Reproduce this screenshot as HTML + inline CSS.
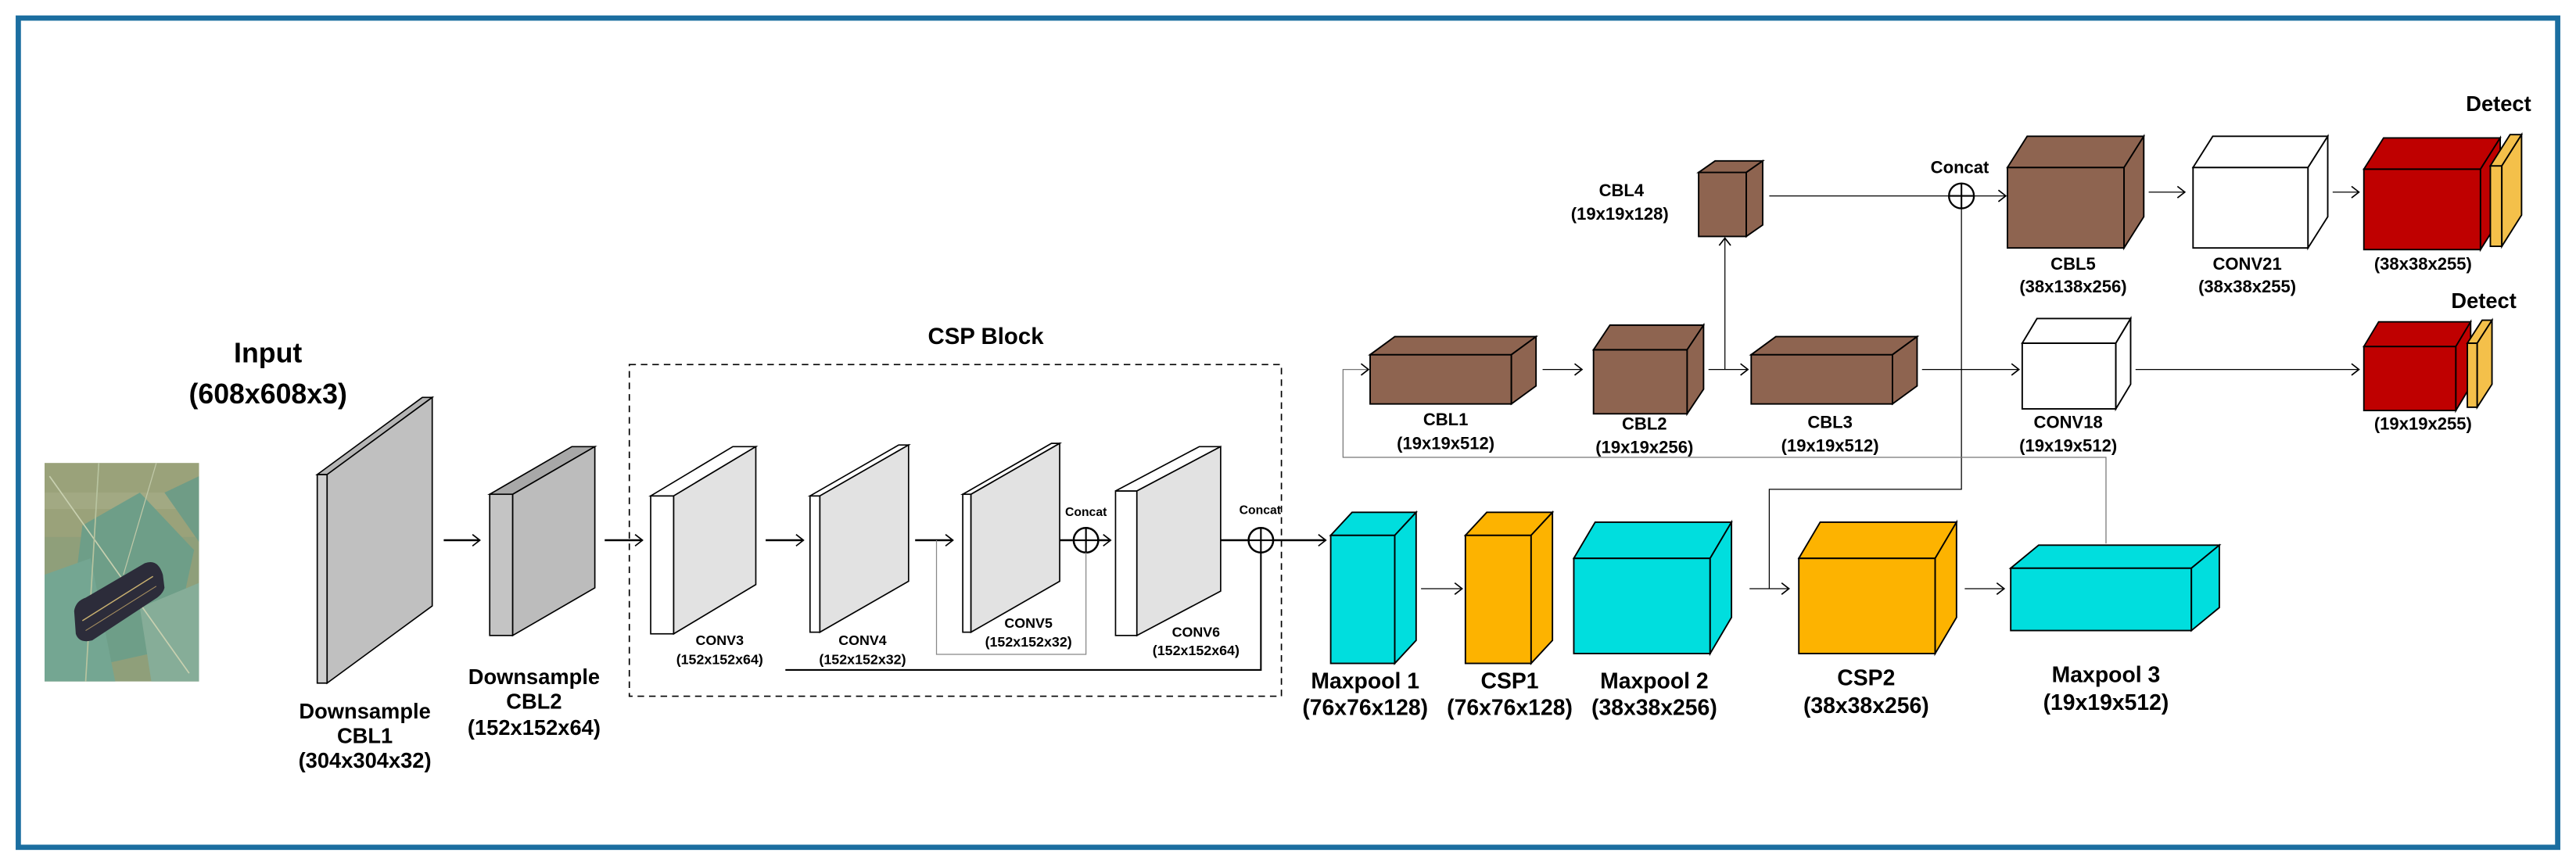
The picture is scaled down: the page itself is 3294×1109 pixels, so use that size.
<!DOCTYPE html>
<html><head><meta charset="utf-8">
<style>
html,body{margin:0;padding:0;background:#fff;}
svg{display:block;}
text{font-family:"Liberation Sans Narrow","Liberation Sans",sans-serif;font-weight:bold;fill:#000;text-anchor:middle;dominant-baseline:central;}
</style></head>
<body>
<svg width="3294" height="1109" viewBox="0 0 1568 528" xmlns="http://www.w3.org/2000/svg">
<defs>
<marker id="a" markerWidth="6" markerHeight="8" refX="5" refY="4" orient="auto" markerUnits="userSpaceOnUse">
<path d="M0.5,0.5 L5,4 L0.5,7.5" fill="none" stroke="#000" stroke-width="0.8"/>
</marker>
</defs>
<rect x="0" y="0" width="1568" height="528" fill="#fff"/>
<rect x="11" y="11" width="1546" height="505" fill="none" stroke="#1b6ea0" stroke-width="3.2"/>

<!-- photo -->
<rect x="27" y="282" width="94" height="133" fill="#8f9f7a"/>
<rect x="27" y="282" width="94" height="45" fill="#9aa27a"/>
<rect x="27" y="300" width="94" height="10" fill="#a8ae88" opacity="0.6"/>
<polygon points="50,320 85,300 118,335 105,395 60,405 45,360" fill="#6e9e88"/>
<polygon points="27,350 55,340 70,415 27,415" fill="#74a692"/>
<polygon points="85,370 121,355 121,415 92,415" fill="#86ad98"/>
<polygon points="100,300 121,290 121,330" fill="#6f9c86"/>
<line x1="30" y1="290" x2="115" y2="410" stroke="#c8d0b0" stroke-width="0.8"/>
<line x1="60" y1="282" x2="52" y2="415" stroke="#b8c4a0" stroke-width="0.8"/>
<line x1="95" y1="282" x2="75" y2="350" stroke="#c0c8a8" stroke-width="0.6"/>
<path d="M45,372 Q46,366 52,364 L88,343 Q96,340 99,350 L100,358 Q99,362 94,365 L56,390 Q48,392 46,386 Z" fill="#2c2c3a"/>
<path d="M50,378 L93,351" stroke="#c8b070" stroke-width="0.7" fill="none"/>
<path d="M52,384 L95,357" stroke="#a89060" stroke-width="0.5" fill="none"/>

<text x="163" y="215" font-size="17">Input</text>
<text x="163" y="240" font-size="17">(608x608x3)</text>

<g stroke="#000" stroke-width="0.8">
<rect x="193" y="289" width="6" height="127" fill="#cfcfcf"/>
<polygon points="193,289 257,242 263,242 199,289" fill="#b5b5b5"/>
<polygon points="199,289 263,242 263,369 199,416" fill="#c0c0c0"/>
<rect x="298" y="301" width="14" height="86" fill="#c4c4c4"/>
<polygon points="298,301 348,272 362,272 312,301" fill="#a8a8a8"/>
<polygon points="312,301 362,272 362,358 312,387" fill="#bcbcbc"/>
<rect x="396" y="302" width="14" height="84" fill="#fff"/>
<polygon points="396,302 446,272 460,272 410,302" fill="#fff"/>
<polygon points="410,302 460,272 460,356 410,386" fill="#e2e2e2"/>
<rect x="493" y="302" width="6" height="83" fill="#fff"/>
<polygon points="493,302 547,271 553,271 499,302" fill="#fff"/>
<polygon points="499,302 553,271 553,354 499,385" fill="#e2e2e2"/>
<rect x="586" y="301" width="5" height="84" fill="#fff"/>
<polygon points="586,301 640,270 645,270 591,301" fill="#fff"/>
<polygon points="591,301 645,270 645,354 591,385" fill="#e2e2e2"/>
<rect x="679" y="299" width="13" height="88" fill="#fff"/>
<polygon points="679,299 730,272 743,272 692,299" fill="#fff"/>
<polygon points="692,299 743,272 743,360 692,387" fill="#e2e2e2"/>
</g>

<rect x="383" y="222" width="397" height="202" fill="none" stroke="#000" stroke-width="0.8" stroke-dasharray="4,3"/>
<text x="600" y="205" font-size="14">CSP Block</text>

<g font-size="8.5">
<text x="438" y="390">CONV3</text><text x="438" y="401.5">(152x152x64)</text>
<text x="525" y="390">CONV4</text><text x="525" y="401.5">(152x152x32)</text>
<text x="626" y="379.5">CONV5</text><text x="626" y="391">(152x152x32)</text>
<text x="728" y="385">CONV6</text><text x="728" y="396">(152x152x64)</text>
<text x="661" y="312" font-size="7.5">Concat</text>
<text x="767" y="311" font-size="7.5">Concat</text>
</g>
<g font-size="13">
<text x="222" y="433">Downsample</text><text x="222" y="448">CBL1</text><text x="222" y="463">(304x304x32)</text>
<text x="325" y="412">Downsample</text><text x="325" y="427">CBL2</text><text x="325" y="443">(152x152x64)</text>
</g>

<g stroke="#000" fill="none">
<line x1="270" y1="329" x2="292" y2="329" stroke-width="1.2" marker-end="url(#a)"/>
<line x1="368" y1="329" x2="391" y2="329" stroke-width="1.2" marker-end="url(#a)"/>
<line x1="466" y1="329" x2="489" y2="329" stroke-width="1.2" marker-end="url(#a)"/>
<line x1="557" y1="329" x2="580" y2="329" stroke-width="1.2" marker-end="url(#a)"/>
<line x1="645" y1="329" x2="653" y2="329" stroke-width="1.2"/>
<line x1="668" y1="329" x2="676" y2="329" stroke-width="1.2" marker-end="url(#a)"/>
<circle cx="661" cy="329" r="7.5" stroke-width="1.2"/>
<line x1="661" y1="321.5" x2="661" y2="336.5" stroke-width="1"/>
<line x1="653.5" y1="329" x2="668.5" y2="329" stroke-width="1"/>
<polyline points="570,329 570,398.5 661,398.5 661,336.5" stroke="#888" stroke-width="0.6"/>
<line x1="743" y1="329" x2="760" y2="329" stroke-width="1.2"/>
<circle cx="767.5" cy="329" r="7.5" stroke-width="1.2"/>
<line x1="767.5" y1="321.5" x2="767.5" y2="336.5" stroke-width="1"/>
<line x1="760" y1="329" x2="775" y2="329" stroke-width="1"/>
<line x1="775" y1="329" x2="807" y2="329" stroke-width="1.2" marker-end="url(#a)"/>
<polyline points="478,408 767.5,408 767.5,336.5" stroke-width="1"/>
</g>

<g stroke="#000" stroke-width="0.9">
<rect x="810" y="326" width="39" height="78" fill="#00dede"/>
<polygon points="810,326 823,312 862,312 849,326" fill="#00dede"/>
<polygon points="849,326 862,312 862,390 849,404" fill="#00dede"/>
<rect x="892" y="326" width="40" height="78" fill="#fdb300"/>
<polygon points="892,326 905,312 945,312 932,326" fill="#fdb300"/>
<polygon points="932,326 945,312 945,390 932,404" fill="#fdb300"/>
<rect x="958" y="340" width="83" height="58" fill="#00dede"/>
<polygon points="958,340 971,318 1054,318 1041,340" fill="#00dede"/>
<polygon points="1041,340 1054,318 1054,376 1041,398" fill="#00dede"/>
<rect x="1095" y="340" width="83" height="58" fill="#fdb300"/>
<polygon points="1095,340 1108,318 1191,318 1178,340" fill="#fdb300"/>
<polygon points="1178,340 1191,318 1191,376 1178,398" fill="#fdb300"/>
<rect x="1224" y="346" width="110" height="38" fill="#00dede"/>
<polygon points="1224,346 1241,332 1351,332 1334,346" fill="#00dede"/>
<polygon points="1334,346 1351,332 1351,370 1334,384" fill="#00dede"/>

<rect x="834" y="216" width="86" height="30" fill="#8e6450"/>
<polygon points="834,216 849,205 935,205 920,216" fill="#8e6450"/>
<polygon points="920,216 935,205 935,235 920,246" fill="#8e6450"/>
<rect x="970" y="213" width="57" height="39" fill="#8e6450"/>
<polygon points="970,213 980,198 1037,198 1027,213" fill="#8e6450"/>
<polygon points="1027,213 1037,198 1037,237 1027,252" fill="#8e6450"/>
<rect x="1066" y="216" width="86" height="30" fill="#8e6450"/>
<polygon points="1066,216 1081,205 1167,205 1152,216" fill="#8e6450"/>
<polygon points="1152,216 1167,205 1167,235 1152,246" fill="#8e6450"/>
<rect x="1231" y="209" width="57" height="40" fill="#fff"/>
<polygon points="1231,209 1240,194 1297,194 1288,209" fill="#fff"/>
<polygon points="1288,209 1297,194 1297,234 1288,249" fill="#fff"/>
<rect x="1439" y="211" width="56" height="39" fill="#bf0000"/>
<polygon points="1439,211 1448,196 1504,196 1495,211" fill="#bf0000"/>
<polygon points="1495,211 1504,196 1504,235 1495,250" fill="#bf0000"/>
<rect x="1502" y="209" width="6" height="39" fill="#f4c04a"/>
<polygon points="1502,209 1511,195 1517,195 1508,209" fill="#f4c04a"/>
<polygon points="1508,209 1517,195 1517,234 1508,248" fill="#f4c04a"/>

<rect x="1034" y="105" width="29" height="39" fill="#8e6450"/>
<polygon points="1034,105 1044,98 1073,98 1063,105" fill="#8e6450"/>
<polygon points="1063,105 1073,98 1073,137 1063,144" fill="#8e6450"/>
<rect x="1222" y="102" width="71" height="49" fill="#8e6450"/>
<polygon points="1222,102 1234,83 1305,83 1293,102" fill="#8e6450"/>
<polygon points="1293,102 1305,83 1305,132 1293,151" fill="#8e6450"/>
<rect x="1335" y="102" width="70" height="49" fill="#fff"/>
<polygon points="1335,102 1347,83 1417,83 1405,102" fill="#fff"/>
<polygon points="1405,102 1417,83 1417,132 1405,151" fill="#fff"/>
<rect x="1439" y="103" width="71" height="49" fill="#bf0000"/>
<polygon points="1439,103 1451,84 1522,84 1510,103" fill="#bf0000"/>
<polygon points="1510,103 1522,84 1522,133 1510,152" fill="#bf0000"/>
<rect x="1516" y="101" width="7" height="49" fill="#f4c04a"/>
<polygon points="1516,101 1528,82 1535,82 1523,101" fill="#f4c04a"/>
<polygon points="1523,101 1535,82 1535,131 1523,150" fill="#f4c04a"/>
</g>

<g stroke="#000" fill="none" stroke-width="0.6">
<line x1="865" y1="358.5" x2="890" y2="358.5" marker-end="url(#a)"/>
<line x1="1065" y1="358.5" x2="1089" y2="358.5" marker-end="url(#a)"/>
<line x1="1196" y1="358.5" x2="1220" y2="358.5" marker-end="url(#a)"/>
<polyline points="1077,358.5 1077,298 1194,298 1194,127"/>
<polyline points="1282,331 1282,278.5 817.5,278.5 817.5,225 833,225" stroke="#777" marker-end="url(#a)"/>
<line x1="939" y1="225" x2="963" y2="225" marker-end="url(#a)"/>
<line x1="1040" y1="225" x2="1064" y2="225" marker-end="url(#a)"/>
<line x1="1170" y1="225" x2="1229" y2="225" marker-end="url(#a)"/>
<line x1="1300" y1="225" x2="1436" y2="225" marker-end="url(#a)"/>
<line x1="1050" y1="225" x2="1050" y2="145" marker-end="url(#a)"/>
<line x1="1077" y1="119.3" x2="1186.5" y2="119.3"/>
<circle cx="1194" cy="119.3" r="7.6" stroke-width="1.1"/>
<line x1="1194" y1="111.7" x2="1194" y2="126.9" stroke-width="1"/>
<line x1="1186.4" y1="119.3" x2="1201.6" y2="119.3" stroke-width="1"/>
<line x1="1202" y1="119.3" x2="1221" y2="119.3" marker-end="url(#a)"/>
<line x1="1308" y1="117" x2="1330" y2="117" marker-end="url(#a)"/>
<line x1="1420" y1="117" x2="1436" y2="117" marker-end="url(#a)"/>
</g>

<g font-size="13.5">
<text x="831" y="415">Maxpool 1</text><text x="831" y="431">(76x76x128)</text>
<text x="919" y="415">CSP1</text><text x="919" y="431">(76x76x128)</text>
<text x="1007" y="415">Maxpool 2</text><text x="1007" y="431">(38x38x256)</text>
<text x="1136" y="413">CSP2</text><text x="1136" y="430">(38x38x256)</text>
<text x="1282" y="411">Maxpool 3</text><text x="1282" y="428">(19x19x512)</text>
</g>
<g font-size="10.5">
<text x="880" y="255.5">CBL1</text><text x="880" y="270">(19x19x512)</text>
<text x="1001" y="258">CBL2</text><text x="1001" y="272.3">(19x19x256)</text>
<text x="1114" y="257.2">CBL3</text><text x="1114" y="271.3">(19x19x512)</text>
<text x="1259" y="257.2">CONV18</text><text x="1259" y="271.3">(19x19x512)</text>
<text x="1475" y="258">(19x19x255)</text>
<text x="987" y="116">CBL4</text><text x="986" y="130.2">(19x19x128)</text>
<text x="1193" y="101.8">Concat</text>
<text x="1262" y="160.8">CBL5</text><text x="1262" y="174.6">(38x138x256)</text>
<text x="1368" y="160.8">CONV21</text><text x="1368" y="174.6">(38x38x255)</text>
<text x="1475" y="160.8">(38x38x255)</text>
</g>
<text x="1512" y="183" font-size="13">Detect</text>
<text x="1521" y="63" font-size="13">Detect</text>
</svg>
</body></html>
